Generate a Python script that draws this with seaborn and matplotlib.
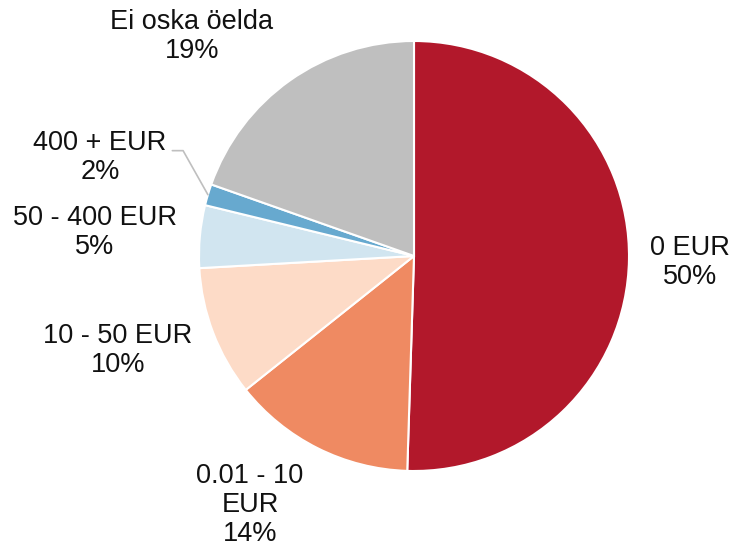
import matplotlib
matplotlib.use("Agg")
import matplotlib.pyplot as plt
import numpy as np
import seaborn as sns

# shares (slice sizes) and the printed labels
categories = ["0 EUR", "0.01 - 10\nEUR", "10 - 50 EUR", "50 - 400 EUR", "400 + EUR", "Ei oska öelda"]
shares = [50.5, 13.8, 9.8, 4.7, 1.6, 19.6]
pct_labels = ["50%", "14%", "10%", "5%", "2%", "19%"]

sns.set_theme(style="white")
plt.rcParams["font.family"] = ["Liberation Sans", "DejaVu Sans"]

colors = ["#b2182b", "#ef8a62", "#fddbc7", "#d1e5f0", "#67a9cf", "#bfbfbf"]

fig = plt.figure(figsize=(7.35, 5.54), dpi=100)
ax = fig.add_axes([0, 0, 1, 1])

wedges, _ = ax.pie(shares, colors=colors, startangle=90, counterclock=False,
                   wedgeprops=dict(edgecolor="white", linewidth=1.5))

ax.set_aspect("equal")
ax.set_xlim(-414 / 215, (735 - 414) / 215)
ax.set_ylim(-298 / 215, 256 / 215)
ax.axis("off")

# label centres (data units, radius = 1)
label_pos = [(1.284, -0.03), (-0.763, -1.16), (-1.377, -0.44),
             (-1.484, 0.11), (-1.46, 0.46), (-1.033, 1.02)]

for name, pct, (x, y) in zip(categories, pct_labels, label_pos):
    ax.text(x, y, f"{name}\n{pct}", ha="center", va="center",
            fontsize=19.5, color="#111111", linespacing=1.15)

# leader line for the small slice
w = wedges[4]
mid = np.deg2rad((w.theta1 + w.theta2) / 2)
px, py = np.cos(mid), np.sin(mid)
elbow = (-1.074, 0.49)
ax.plot([px, elbow[0], elbow[0] - 0.05], [py, elbow[1], elbow[1]],
        color="#bfbfbf", linewidth=1.2)

fig.savefig("out.png", dpi=100)
